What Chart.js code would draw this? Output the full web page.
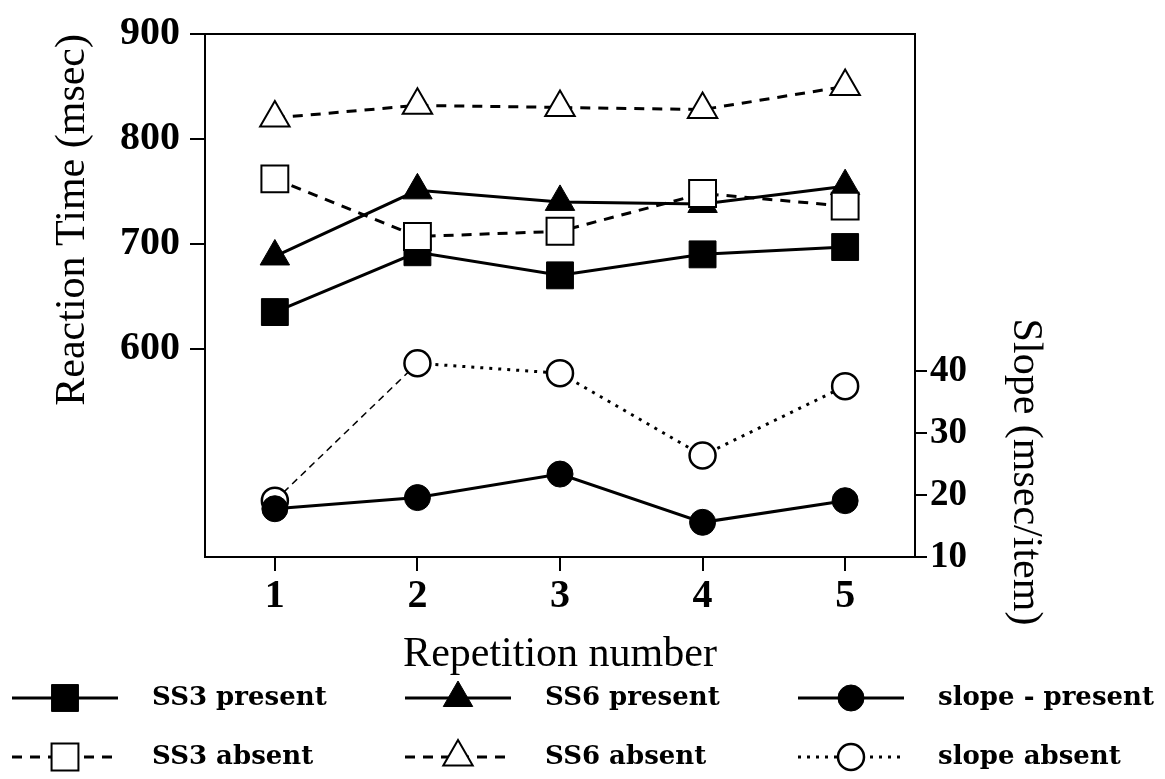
<!DOCTYPE html>
<html>
<head>
<meta charset="utf-8">
<script src="https://cdn.jsdelivr.net/npm/chart.js@4.4.0/dist/chart.umd.min.js"></script>
<style>
  html, body { margin: 0; padding: 0; background: #fff; }
  #wrap { width: 1165px; height: 779px; }
</style>
</head>
<body>
<div id="wrap"><canvas id="rtChart"></canvas></div>
<script>
const repetitions = [1, 2, 3, 4, 5];
const ss3Present = [635, 692, 670, 690, 697];
const ss6Present = [688, 751, 740, 738, 755];
const ss3Absent = [762, 707, 712, 748, 736];
const ss6Absent = [820, 832, 830, 828, 850];
const slopePresent = [17.8, 19.6, 23.4, 15.6, 19.1];
const slopeAbsent = [19.1, 41.3, 39.7, 26.4, 37.6];
const rtTicks = [600, 700, 800, 900];
const slopeTicks = [10, 20, 30, 40];

const serif = '"Liberation Serif", "Times New Roman", serif';
const legendFont = '"DejaVu Serif", serif';

function pts(values) {
    return values.map((v, i) => ({ x: repetitions[i], y: v }));
}

function series(label, values, style) {
    return Object.assign({
        label,
        data: pts(values),
        borderColor: '#000',
        borderWidth: 3,
        pointBorderColor: '#000',
        pointHoverRadius: 0,
        tension: 0,
        fill: false,
        yAxisID: 'y'
    }, style);
}

// order: lower number is drawn on top
const datasets = [
    series('SS3 present', ss3Present, {
        pointStyle: 'rect', pointRadius: 19, pointBackgroundColor: '#000', pointBorderWidth: 1, order: 4
    }),
    series('SS6 present', ss6Present, {
        pointStyle: 'triangle', pointRadius: 17, pointBackgroundColor: '#000', pointBorderWidth: 1, order: 3
    }),
    series('slope - present', slopePresent, {
        pointStyle: 'circle', pointRadius: 13, pointBackgroundColor: '#000', pointBorderWidth: 1, yAxisID: 'y1', order: 0
    }),
    series('SS3 absent', ss3Absent, {
        borderDash: [10, 8], pointStyle: 'rect', pointRadius: 19, pointBackgroundColor: '#fff', pointBorderWidth: 2, order: 2
    }),
    series('SS6 absent', ss6Absent, {
        borderDash: [10, 8], pointStyle: 'triangle', pointRadius: 17, pointBackgroundColor: '#fff', pointBorderWidth: 2, order: 5
    }),
    series('slope absent', slopeAbsent, {
        borderDash: [3, 6], pointStyle: 'circle', pointRadius: 13, pointBackgroundColor: '#fff', pointBorderWidth: 2.5,
        yAxisID: 'y1', order: 1,
        segment: {
            borderWidth: c => c.p0DataIndex === 0 ? 1.5 : undefined,
            borderDash: c => c.p0DataIndex === 0 ? [7, 5] : undefined
        }
    })
];

// frame top edge, right-hand title and the two-row legend
const extras = {
    id: 'extras',
    afterDraw(chart) {
        const { ctx, chartArea } = chart;
        ctx.save();
        ctx.strokeStyle = '#000';
        ctx.lineWidth = 2;
        ctx.beginPath();
        ctx.moveTo(chartArea.left, chartArea.top);
        ctx.lineTo(chartArea.right, chartArea.top);
        ctx.stroke();

        ctx.fillStyle = '#000';
        ctx.font = '42px ' + serif;
        ctx.textAlign = 'center';
        ctx.textBaseline = 'middle';
        ctx.translate(chartArea.right + 110, chartArea.bottom - 85);
        ctx.rotate(Math.PI / 2);
        ctx.fillText('Slope (msec/item)', 0, 0);
        ctx.restore();

        const cols = [12, 405, 798];
        const rows = [chartArea.bottom + 141, chartArea.bottom + 200];
        const layout = [[0, 1, 2], [3, 4, 5]];
        layout.forEach((row, r) => {
            row.forEach((di, c) => {
                const ds = chart.data.datasets[di];
                const x0 = cols[c];
                const y = rows[r];
                ctx.save();
                ctx.strokeStyle = '#000';
                ctx.lineWidth = 3;
                ctx.setLineDash(ds.borderDash || []);
                ctx.beginPath();
                ctx.moveTo(x0, y);
                ctx.lineTo(x0 + 106, y);
                ctx.stroke();
                ctx.setLineDash([]);
                ctx.fillStyle = ds.pointBackgroundColor;
                ctx.strokeStyle = '#000';
                ctx.lineWidth = ds.pointBorderWidth;
                Chart.helpers.drawPoint(ctx, {
                    pointStyle: ds.pointStyle,
                    radius: ds.pointRadius,
                    rotation: 0,
                    borderWidth: ds.pointBorderWidth
                }, x0 + 53, y);
                ctx.fillStyle = '#000';
                ctx.font = 'bold 26px ' + legendFont;
                ctx.textAlign = 'left';
                ctx.textBaseline = 'middle';
                ctx.fillText(ds.label, x0 + 140, y);
                ctx.restore();
            });
        });
    }
};

new Chart(document.getElementById('rtChart'), {
    type: 'line',
    data: { datasets },
    options: {
        responsive: true,
        maintainAspectRatio: false,
        animation: false,
        layout: { padding: { top: 27, bottom: 99, left: 0, right: 0 } },
        plugins: {
            legend: { display: false },
            tooltip: { enabled: false }
        },
        scales: {
            x: {
                type: 'linear',
                min: 0.51,
                max: 5.49,
                afterBuildTicks: s => { s.ticks = repetitions.map(v => ({ value: v })); },
                afterFit: s => { s.height = 123; },
                grid: { drawOnChartArea: false, drawTicks: true, tickLength: 14, color: '#000', lineWidth: 2 },
                border: { color: '#000', width: 2 },
                ticks: { color: '#000', padding: 2, font: { family: serif, size: 40, weight: 'bold' } },
                title: {
                    display: true, text: 'Repetition number', color: '#000',
                    font: { family: serif, size: 42 }, padding: { top: 7, bottom: 0 }
                }
            },
            y: {
                position: 'left',
                min: 401.6,
                max: 900,
                afterBuildTicks: s => { s.ticks = rtTicks.map(v => ({ value: v })); },
                afterFit: s => { s.width = 205; },
                grid: { drawOnChartArea: false, drawTicks: true, tickLength: 15, color: '#000', lineWidth: 2 },
                border: { color: '#000', width: 2 },
                ticks: { color: '#000', padding: 10, font: { family: serif, size: 40, weight: 'bold' } },
                title: {
                    display: true, text: 'Reaction Time (msec)', color: '#000', align: 'end',
                    font: { family: serif, size: 42 }, padding: { top: 48, bottom: 0 }
                }
            },
            y1: {
                position: 'right',
                min: 10,
                max: 94.5,
                afterBuildTicks: s => { s.ticks = slopeTicks.map(v => ({ value: v })); },
                afterFit: s => { s.width = 250; },
                grid: { drawOnChartArea: false, drawTicks: true, tickLength: 12, color: '#000', lineWidth: 2 },
                border: { color: '#000', width: 2 },
                ticks: { color: '#000', padding: 3, font: { family: serif, size: 37, weight: 'bold' } }
            }
        }
    },
    plugins: [extras]
});
</script>
</body>
</html>
